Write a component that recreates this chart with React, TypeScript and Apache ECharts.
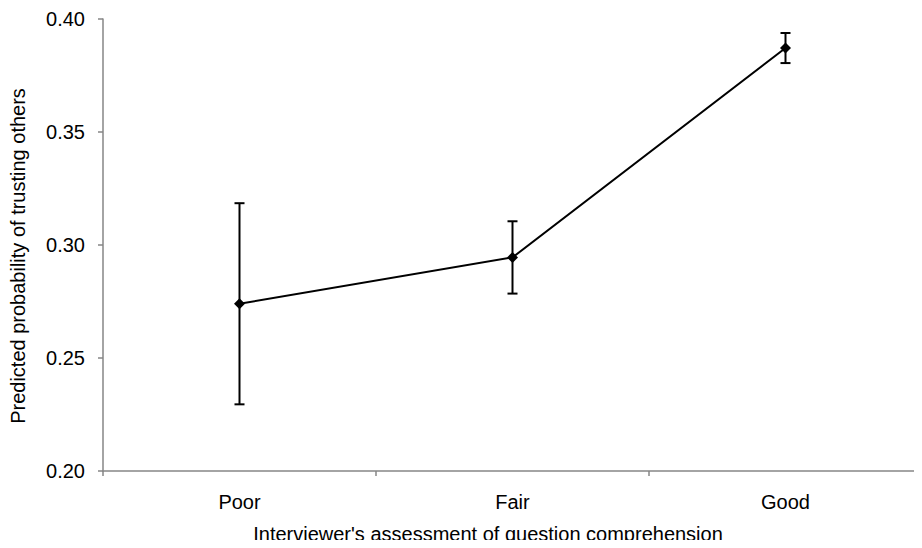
import React, { useEffect, useRef } from "react";
import * as echarts from "echarts";

const categories = ["Poor", "Fair", "Good"];
const predicted = [0.274, 0.2945, 0.3872];
const upper = [0.3185, 0.3105, 0.3938];
const lower = [0.2295, 0.2785, 0.3805];
const yTicks = { min: 0.2, max: 0.4, interval: 0.05 };

export default function App() {
  const ref = useRef<HTMLDivElement>(null);
  useEffect(() => {
    if (!ref.current) return;
    const chart = echarts.init(ref.current, undefined, { renderer: "svg" });
    const font = "Liberation Sans, Arial, sans-serif";
    chart.setOption({
      animation: false,
      backgroundColor: "#ffffff",
      title: {
        text: "Interviewer's assessment of question comprehension",
        left: 488,
        top: 523,
        padding: 0,
        textAlign: "center",
        textStyle: { fontFamily: font, fontSize: 20, fontWeight: "normal", color: "#000", lineHeight: 22 },
      },
      grid: { left: 102, top: 19, height: 452, width: 827 },
      xAxis: {
        type: "category",
        data: categories,
        boundaryGap: true,
        axisLine: { lineStyle: { color: "#868686", width: 1.5 } },
        axisTick: { show: true, length: 5, lineStyle: { color: "#868686", width: 1.5 } },
        axisLabel: { fontFamily: font, fontSize: 20, color: "#000", margin: 21 },
        splitLine: { show: false },
      },
      yAxis: {
        type: "value",
        min: yTicks.min,
        max: yTicks.max,
        interval: yTicks.interval,
        name: "Predicted probability of trusting others",
        nameLocation: "middle",
        nameGap: 75,
        nameTextStyle: { fontFamily: font, fontSize: 20, color: "#000", padding: [0, 22, 0, 0] },
        axisLine: { show: true, lineStyle: { color: "#868686", width: 1.5 } },
        axisTick: { show: true, length: 5, lineStyle: { color: "#868686", width: 1.5 } },
        axisLabel: {
          fontFamily: font,
          fontSize: 20,
          color: "#000",
          margin: 18,
          formatter: (v: number) => v.toFixed(2),
        },
        splitLine: { show: false },
      },
      series: [
        {
          type: "custom",
          renderItem: (params: any, api: any) => {
            const x = api.value(0);
            const hi = api.coord([x, api.value(1)]);
            const lo = api.coord([x, api.value(2)]);
            const hw = 5;
            const style = { stroke: "#000", lineWidth: 2 };
            return {
              type: "group",
              children: [
                { type: "line", shape: { x1: hi[0], y1: hi[1], x2: lo[0], y2: lo[1] }, style },
                { type: "line", shape: { x1: hi[0] - hw, y1: hi[1], x2: hi[0] + hw, y2: hi[1] }, style },
                { type: "line", shape: { x1: lo[0] - hw, y1: lo[1], x2: lo[0] + hw, y2: lo[1] }, style },
              ],
            };
          },
          encode: { x: 0, y: [1, 2] },
          data: categories.map((_, i) => [i, upper[i], lower[i]]),
          z: 2,
        },
        {
          type: "line",
          data: predicted,
          symbol: "diamond",
          symbolSize: 11,
          lineStyle: { color: "#000", width: 2 },
          itemStyle: { color: "#000" },
          z: 3,
        },
      ],
    });
    return () => chart.dispose();
  }, []);
  return <div ref={ref} style={{ width: 922, height: 548, margin: -8 }} />;
}
